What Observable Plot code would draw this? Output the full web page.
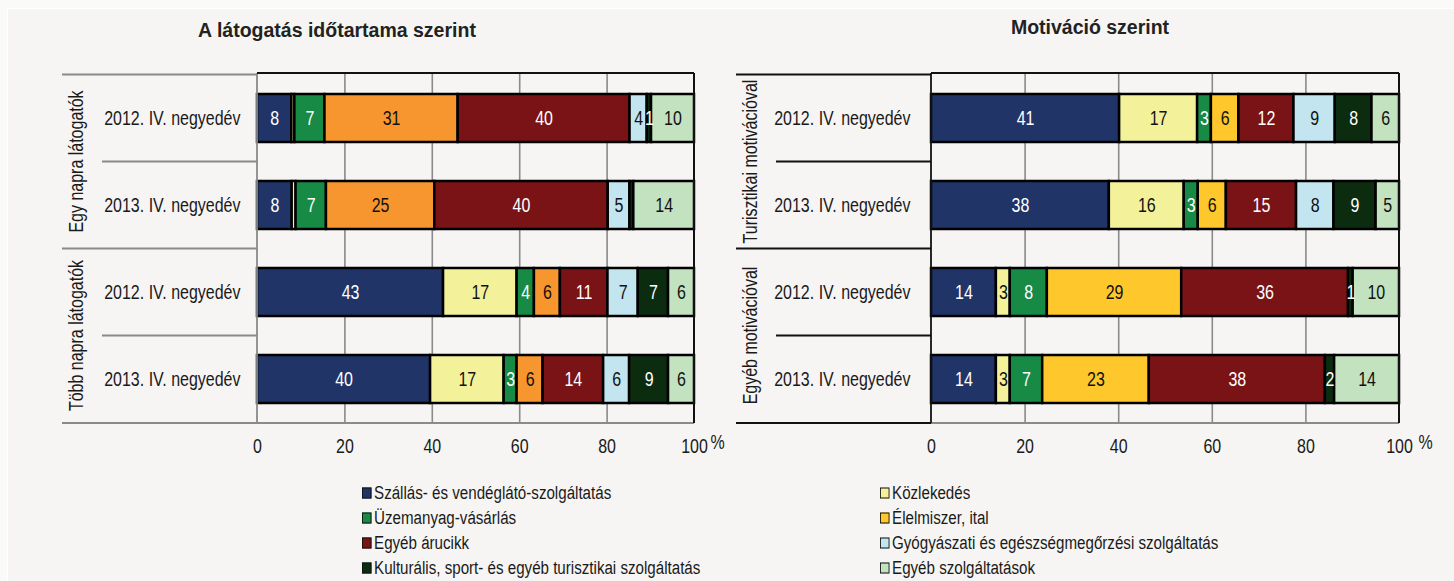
<!DOCTYPE html>
<html><head><meta charset="utf-8">
<script src="https://cdn.jsdelivr.net/npm/d3@7"></script>
<script src="https://cdn.jsdelivr.net/npm/@observablehq/plot@0.6"></script>
<style>
html,body{margin:0;padding:0;background:#fafaf9;width:1454px;height:581px;overflow:hidden;}
#panel{position:absolute;left:7px;top:8px;width:1446px;height:573px;background:#f6f5f3;border-left:1.5px solid #fff;border-top:1.5px solid #fff;}
.chart{position:absolute;top:0;}
.title{position:absolute;font-family:"Liberation Sans",Arial,sans-serif;font-weight:bold;font-size:19.5px;color:#222;transform:translate(-50%,-50%);white-space:nowrap;}
.leg{position:absolute;font-family:"Liberation Sans",Arial,sans-serif;font-size:17.6px;color:#1a1a1a;white-space:nowrap;transform:translateY(-50%) scaleX(0.86);transform-origin:left center;display:flex;align-items:center;}
.sw{display:inline-block;width:9px;height:9px;border:1.6px solid #111;margin-right:3px;}
</style>
</head><body>
<div id="panel"></div>
<div id="root"></div>
<script>
const series = ["Szállás- és vendéglátó-szolgáltatás","Közlekedés","Üzemanyag-vásárlás","Élelmiszer, ital","Egyéb árucikk","Gyógyászati és egészségmegőrzési szolgáltatás","Kulturális, sport- és egyéb turisztikai szolgáltatás","Egyéb szolgáltatások"];
const periods = ["2012. IV. negyedév","2013. IV. negyedév"];
const durationGroups = ["Egy napra látogatók","Több napra látogatók"];
const motivationGroups = ["Turisztikai motivációval","Egyéb motivációval"];
// values in series order
const egyNapra2012 = [8, 0.7, 7, 31, 40, 4, 1, 10];
const egyNapra2013 = [8, 0.9, 7, 25, 40, 5, 0.9, 14];
const tobbNapra2012 = [43, 17, 4, 6, 11, 7, 7, 6];
const tobbNapra2013 = [40, 17, 3, 6, 14, 6, 9, 6];
const turisztikai2012 = [41, 17, 3, 6, 12, 9, 8, 6];
const turisztikai2013 = [38, 16, 3, 6, 15, 8, 9, 5];
const egyebMotiv2012 = [14, 3, 8, 29, 36, 0, 1, 10];
const egyebMotiv2013 = [14, 3, 7, 23, 38, 0, 2, 14];
const xTicks = [0, 0.2, 0.4, 0.6, 0.8, 1];
const colorsLeft = ["#213468","#F3F29B","#178A45","#F7952E","#7A1315","#C2E5EF","#0C2C10","#C3E2C0"];
const colorsRight = ["#213468","#F3F29B","#178A45","#FEC72B","#7A1315","#C2E5EF","#0C2C10","#C3E2C0"];
const darkSeries = new Set([series[0], series[2], series[4], series[6]]);

const FONT = '"Liberation Sans",Arial,sans-serif';
const FS = 19.5;
const NARROW = 0.82;

function decor(keys, groupOf, opt) {
  return (index, scales, values, dims) => {
    const y = scales.y, bw = y.bandwidth(), step = y.step();
    const L = dims.marginLeft, R = dims.width - dims.marginRight;
    const T = dims.marginTop, B = dims.height - dims.marginBottom;
    const g = d3.create("svg:g");
    keys.forEach((k, i) => {
      const top = y(k) + bw / 2 - step / 2;
      const start = i === 0 || groupOf(keys[i - 1]) !== groupOf(k);
      g.append("line").attr("x1", L - (start ? opt.outer : opt.inner)).attr("x2", L)
        .attr("y1", top).attr("y2", top).attr("stroke", opt.color).attr("stroke-width", 1.8);
    });
    g.append("line").attr("x1", L - opt.outer).attr("x2", L).attr("y1", B).attr("y2", B)
      .attr("stroke", opt.color).attr("stroke-width", 1.8);
    const groups = [...new Set(keys.map(groupOf))];
    groups.forEach(gr => {
      const ks = keys.filter(k => groupOf(k) === gr);
      const cy = d3.mean(ks, k => y(k) + bw / 2);
      g.append("text").attr("transform", `translate(${L - opt.label},${cy}) rotate(-90)`)
        .attr("text-anchor", "middle").attr("dy", "0.35em")
        .attr("font-family", FONT).attr("font-size", FS).attr("fill", "#1a1a1a").text(gr);
    });
    g.append("line").attr("x1", L).attr("x2", R).attr("y1", B).attr("y2", B).attr("stroke", "#8a8a8a").attr("stroke-width", 1.8);
    g.append("line").attr("x1", L).attr("x2", L).attr("y1", T).attr("y2", B).attr("stroke", opt.leftColor).attr("stroke-width", 1.8);
    g.append("line").attr("x1", L).attr("x2", R).attr("y1", T).attr("y2", T).attr("stroke", "#111").attr("stroke-width", 2);
    g.append("line").attr("x1", R).attr("x2", R).attr("y1", T).attr("y2", B).attr("stroke", "#111").attr("stroke-width", 2);
    return g.node();
  };
}

// emulate a narrow typeface: squeeze every text horizontally around its own anchor
function narrow(svg) {
  svg.querySelectorAll("text").forEach(t => {
    let x = parseFloat(t.getAttribute("x"));
    if (!isFinite(x)) x = 0;
    const tr = t.getAttribute("transform") || "";
    t.setAttribute("transform", `${tr} translate(${x},0) scale(${NARROW},1) translate(${-x},0)`);
  });
  return svg;
}

function chart(groups, rows, colors, opt) {
  const data = [], keys = [];
  groups.forEach((gr, gi) => periods.forEach((p, pi) => {
    const k = gr + "|" + p; keys.push(k);
    rows[gi * 2 + pi].forEach((v, j) => data.push({key: k, group: gr, period: p, series: series[j], value: v}));
  }));
  const stack = (o) => Plot.stackX({x: "value", y: "key", z: "series", order: series, offset: "normalize", ...o});
  return narrow(Plot.plot({
    width: 727, height: 470,
    marginLeft: opt.ml, marginRight: opt.mr, marginTop: 73, marginBottom: 47,
    style: {fontFamily: FONT, fontSize: FS + "px", background: "transparent", color: "#1a1a1a", overflow: "visible"},
    x: {domain: [0, 1]},
    y: {domain: keys, paddingInner: 0.45, paddingOuter: 0.225},
    color: {domain: series, range: colors},
    marks: [
      Plot.gridX({ticks: [0.2, 0.4, 0.6, 0.8], stroke: "#8a8a8a", strokeOpacity: 1, strokeWidth: 1.6}),
      Plot.barX(data, stack({fill: "series", stroke: "#000", strokeWidth: 2.5})),
      Plot.text(data, stack({text: d => darkSeries.has(d.series) && d.value >= 1 ? Math.round(d.value) : "", fill: "white", fontSize: FS})),
      Plot.text(data, stack({text: d => !darkSeries.has(d.series) && d.value >= 1 ? Math.round(d.value) : "", fill: "#111", fontSize: FS})),
      Plot.axisX({ticks: xTicks, tickFormat: d => Math.round(d * 100), tickSize: 0, tickPadding: 16, label: null, fontSize: FS, fill: "#1a1a1a"}),
      Plot.text(["%"], {x: [1], frameAnchor: "bottom", dx: opt.pctDx, dy: 25, text: d => d, fontSize: FS, fill: "#1a1a1a"}),
      Plot.axisY({tickSize: 0, tickPadding: opt.tp, tickFormat: k => k.split("|")[1], label: null, fontSize: FS, fill: "#1a1a1a"}),
      decor(keys, k => k.split("|")[0], {outer: 195, inner: 155, label: 181, color: opt.lineColor, leftColor: opt.leftColor})
    ]
  }));
}

const root = document.getElementById("root");
const left = chart(durationGroups, [egyNapra2012, egyNapra2013, tobbNapra2012, tobbNapra2013], colorsLeft,
  {ml: 257, mr: 33, tp: 17, pctDx: 23, lineColor: "#8a8a8a", leftColor: "#8a8a8a"});
left.classList.add("chart"); left.style.left = "0px";
root.appendChild(left);
const right = chart(motivationGroups, [turisztikai2012, turisztikai2013, egyebMotiv2012, egyebMotiv2013], colorsRight,
  {ml: 204, mr: 55, tp: 21, pctDx: 26, lineColor: "#111", leftColor: "#111"});
right.classList.add("chart"); right.style.left = "727px";
root.appendChild(right);

function addTitle(text, x, y) {
  const d = document.createElement("div"); d.className = "title"; d.textContent = text;
  d.style.left = x + "px"; d.style.top = y + "px"; root.appendChild(d);
}
addTitle("A látogatás időtartama szerint", 337, 30);
addTitle("Motiváció szerint", 1090, 27);

// legend: two columns, row-major
series.forEach((s, i) => {
  const col = i % 2, row = Math.floor(i / 2);
  const d = document.createElement("div"); d.className = "leg";
  d.style.left = (col === 0 ? 362 : 880) + "px";
  d.style.top = (493 + row * 25) + "px";
  const sw = document.createElement("span"); sw.className = "sw"; sw.style.background = colorsRight[i];
  d.appendChild(sw); d.appendChild(document.createTextNode(s));
  root.appendChild(d);
});
</script>
</body></html>
